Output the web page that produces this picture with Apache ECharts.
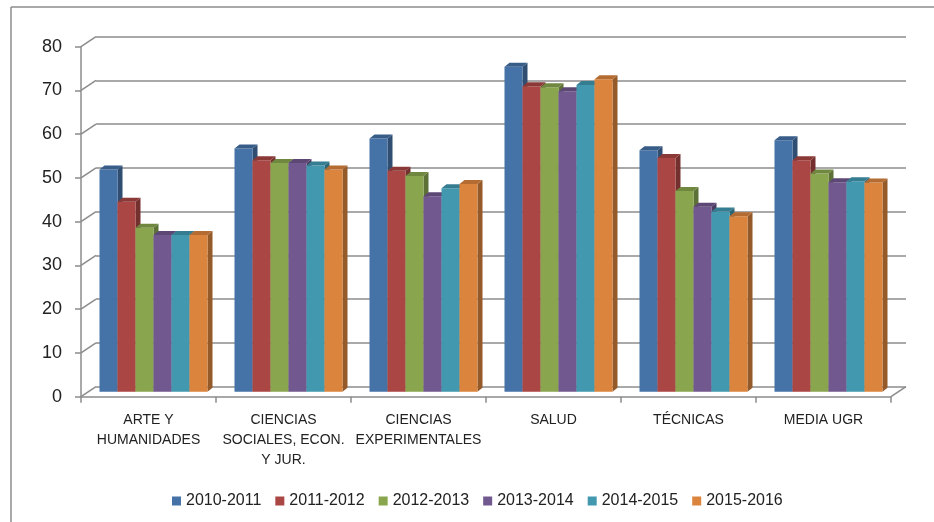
<!DOCTYPE html>
<html>
<head>
<meta charset="utf-8">
<script src="https://cdn.jsdelivr.net/npm/echarts@6/dist/echarts.min.js"></script>
<style>
  html, body { margin: 0; padding: 0; background: #fff; }
  #chart { width: 934px; height: 522px; }
</style>
</head>
<body>
<div id="chart"></div>
<script>
// datos
const categorias = ['ARTE Y\nHUMANIDADES', 'CIENCIAS\nSOCIALES, ECON.\nY JUR.', 'CIENCIAS\nEXPERIMENTALES', 'SALUD', 'TÉCNICAS', 'MEDIA UGR']
const cursos = ['2010-2011', '2011-2012', '2012-2013', '2013-2014', '2014-2015', '2015-2016']
const v2010 = [50.8, 55.6, 57.9, 74.3, 55.2, 57.5]
const v2011 = [43.4, 52.9, 50.5, 69.8, 53.4, 52.9]
const v2012 = [37.5, 52.3, 49.3, 69.6, 45.9, 49.9]
const v2013 = [35.8, 52.3, 44.7, 68.7, 42.3, 47.9]
const v2014 = [35.8, 51.7, 46.5, 70.1, 41.2, 48.1]
const v2015 = [35.8, 50.8, 47.5, 71.4, 40.1, 47.8]
const yTicks = [0, 10, 20, 30, 40, 50, 60, 70, 80]

const valores = [v2010, v2011, v2012, v2013, v2014, v2015]
const colores = ['#4572A7', '#AA4643', '#89A54E', '#71588F', '#4198AF', '#DB843D']
const gris = '#8c8c8c'

// profundidad de la pared y de las barras
const WALL = [15, -10]
const DEPTH = [5, -4]

const darken = (hex, f) => {
  const n = parseInt(hex.slice(1), 16)
  const r = Math.round(((n >> 16) & 255) * f)
  const g = Math.round(((n >> 8) & 255) * f)
  const b = Math.round((n & 255) * f)
  return 'rgb(' + r + ',' + g + ',' + b + ')'
}

const barRender = (idx) => (params, api) => {
  const cat = api.value(0)
  const v = api.value(1)
  const base = api.coord([cat, 0])
  const top = api.coord([cat, v])
  const band = api.size([1, 0])[0]
  const w = band * 0.8 / cursos.length
  const x0 = base[0] - band * 0.4 + idx * w
  const x1 = x0 + w
  const yb = base[1], yt = top[1]
  const dx = DEPTH[0], dy = DEPTH[1]
  const c = colores[idx]
  return {
    type: 'group',
    children: [
      { type: 'polygon', shape: { points: [[x1, yb], [x1, yt], [x1 + dx, yt + dy], [x1 + dx, yb + dy]] }, style: { fill: darken(c, 0.68) } },
      { type: 'rect', shape: { x: x0, y: yt, width: w, height: yb - yt }, style: { fill: c } },
      { type: 'polygon', shape: { points: [[x0, yt], [x1, yt], [x1 + dx, yt + dy], [x0 + dx, yt + dy]] }, style: { fill: darken(c, 0.82) } }
    ]
  }
}

// líneas diagonales de la pared (ticks y suelo)
const diagRender = (params, api) => {
  const cat = api.value(0)
  const v = api.value(1)
  const side = api.value(2)
  const p = api.coord([cat, v])
  const band = api.size([1, 0])[0]
  const x = p[0] + side * band / 2
  return {
    type: 'line',
    shape: { x1: x, y1: p[1], x2: x + WALL[0], y2: p[1] + WALL[1] },
    style: { stroke: gris, lineWidth: 1.5 }
  }
}

const diagData = yTicks.map(t => [0, t, -1])
diagData.push([categorias.length - 1, 0, 1])

const chart = echarts.init(document.getElementById('chart'))

const gridBox = (left, top) => ({ left: left, top: top, width: 810, height: 350 })

const option = {
  animation: false,
  grid: [gridBox(81, 46.7), gridBox(86, 41.7), gridBox(96, 36.7)],
  graphic: [
    { type: 'line', shape: { x1: 11, y1: 7, x2: 934, y2: 7 }, style: { stroke: gris, lineWidth: 1.5 } },
    { type: 'line', shape: { x1: 11, y1: 7, x2: 11, y2: 522 }, style: { stroke: gris, lineWidth: 1.5 } }
  ],
  legend: {
    data: cursos,
    top: 488,
    left: 167,
    icon: 'rect',
    itemWidth: 9,
    itemHeight: 9,
    itemGap: 14,
    textStyle: { fontFamily: 'Liberation Sans', fontSize: 16, color: '#222' }
  },
  xAxis: [
    {
      type: 'category', gridIndex: 0, data: categorias,
      axisLine: { lineStyle: { color: gris, width: 1.5 } },
      axisTick: { show: true, length: 6, lineStyle: { color: gris, width: 1.5 } },
      axisLabel: { interval: 0, margin: 13, fontFamily: 'Liberation Sans', fontSize: 14, lineHeight: 20, color: '#222' }
    },
    { type: 'category', gridIndex: 1, data: categorias, show: false },
    { type: 'category', gridIndex: 2, data: categorias, show: false }
  ],
  yAxis: [
    {
      type: 'value', gridIndex: 0, min: 0, max: 80, interval: 10,
      axisLine: { show: true, lineStyle: { color: gris, width: 1.5 } },
      axisTick: { show: true, length: 6, lineStyle: { color: gris, width: 1.5 } },
      splitLine: { show: false },
      axisLabel: { margin: 19, fontFamily: 'Liberation Sans', fontSize: 18, color: '#222' }
    },
    { type: 'value', gridIndex: 1, min: 0, max: 80, interval: 10, show: false },
    {
      type: 'value', gridIndex: 2, min: 0, max: 80, interval: 10,
      axisLine: { show: false }, axisTick: { show: false }, axisLabel: { show: false },
      splitLine: { lineStyle: { color: gris, width: 1.5 } }
    }
  ],
  series: [
    {
      type: 'custom', name: 'diag', xAxisIndex: 0, yAxisIndex: 0,
      data: diagData, renderItem: diagRender, silent: true, clip: false
    },
    ...cursos.map((nombre, i) => ({
      type: 'custom',
      name: nombre,
      xAxisIndex: 1,
      yAxisIndex: 1,
      itemStyle: { color: colores[i] },
      data: valores[i].map((v, k) => [k, v]),
      renderItem: barRender(i),
      clip: false
    }))
  ]
}

chart.setOption(option)
window.addEventListener('resize', () => chart.resize())
</script>
</body>
</html>
